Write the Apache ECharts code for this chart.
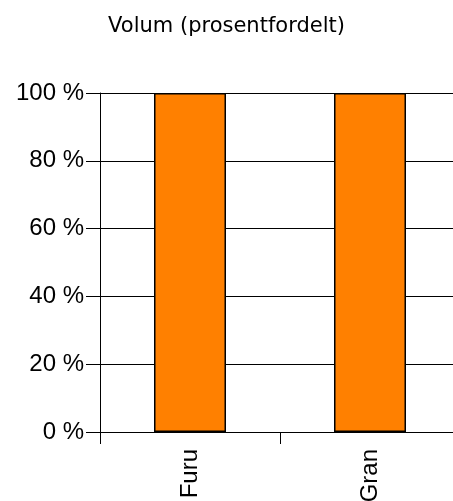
<!DOCTYPE html>
<html><head><meta charset="utf-8">
<script src="https://cdn.jsdelivr.net/npm/echarts@6/dist/echarts.min.js"></script>
<style>html,body{margin:0;padding:0;background:#fff}#c{width:453px;height:501px}</style>
</head><body><div id="c"></div>
<script>
const titleText = 'Volum (prosentfordelt)';
const categories = ['Furu', 'Gran'];
const values = [100, 100];
const yTicks = [0, 20, 40, 60, 80, 100];

const chart = echarts.init(document.getElementById('c'), null, {renderer: 'canvas'});
chart.setOption({
  animation: false,
  title: {
    text: titleText, left: 'center', top: 11,
    textStyle: {fontFamily: 'DejaVu Sans', fontSize: 21, fontWeight: 'normal', color: '#000'}
  },
  grid: {left: 100, width: 360, top: 93, height: 339, containLabel: false, outerBoundsMode: 'none'},
  xAxis: {
    type: 'category', data: categories, boundaryGap: true,
    axisLine: {lineStyle: {color: '#000', width: 1}},
    axisTick: {show: true, length: 12, alignWithLabel: false, lineStyle: {color: '#000'}},
    axisLabel: {rotate: 90, margin: 17, fontFamily: 'Liberation Sans', fontSize: 24, color: '#000'},
    splitLine: {show: false}
  },
  yAxis: {
    type: 'value', min: yTicks[0], max: yTicks[yTicks.length - 1], interval: 20,
    axisLine: {show: true, lineStyle: {color: '#000', width: 1}},
    axisTick: {show: true, length: 14, lineStyle: {color: '#000'}},
    axisLabel: {margin: 16, fontFamily: 'Liberation Sans', fontSize: 24, color: '#000',
      formatter: v => v + ' %'},
    splitLine: {show: true, lineStyle: {color: '#000', width: 1}}
  },
  series: [{
    type: 'bar', data: values, barWidth: '40%',
    itemStyle: {color: '#FF8000', borderColor: '#000', borderWidth: 1.5}
  }]
});
</script></body></html>
